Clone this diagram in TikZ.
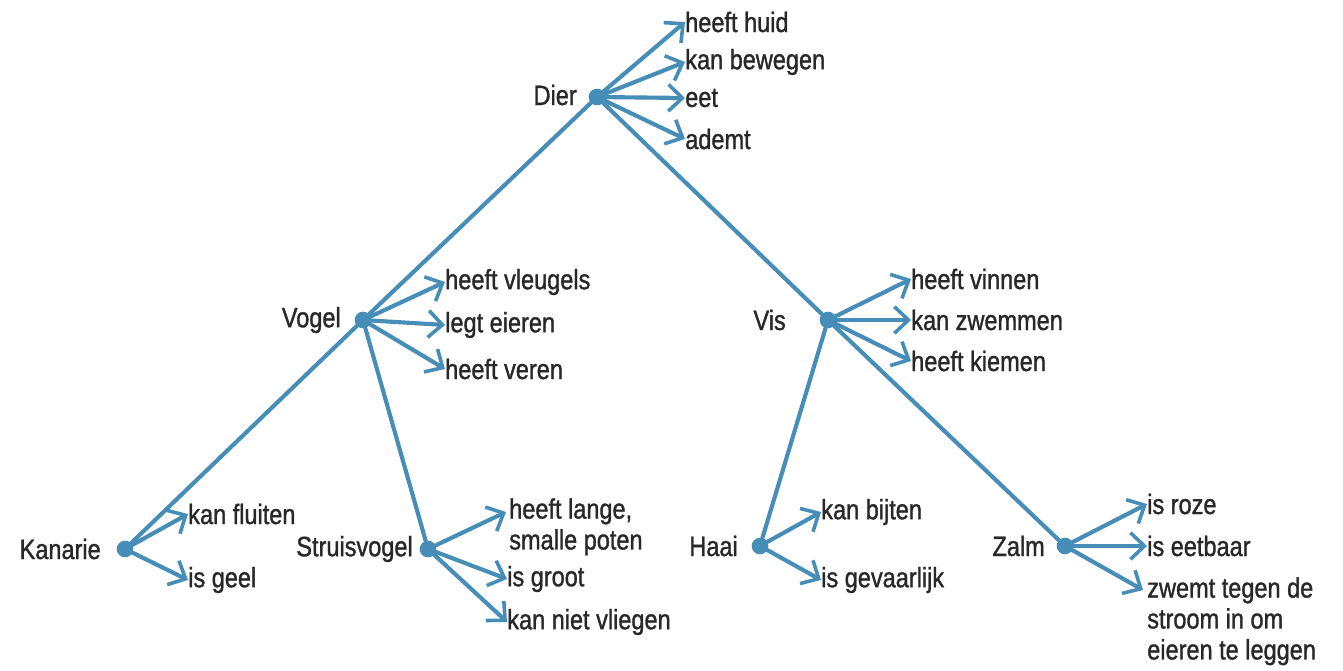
\documentclass[tikz,border=0pt]{standalone}
\usepackage{fontspec}
\setmainfont[FakeStretch=0.84,FakeBold=1.2]{Liberation Sans}
\usetikzlibrary{arrows.meta}
\definecolor{linkblue}{RGB}{70,142,184}
\definecolor{inkgray}{RGB}{40,40,40}
\begin{document}
\begin{tikzpicture}[x=0.75pt,y=-0.75pt,
  font=\fontsize{21}{23.2}\selectfont,
  dot/.style={circle,fill=linkblue,minimum size=12.5pt,inner sep=0pt},
  lbl/.style={text=inkgray,inner sep=0pt},
  prop/.style={text=inkgray,inner sep=0pt,anchor=west},
  propml/.style={text=inkgray,inner sep=0pt,anchor=north west,align=left},
  link/.style={draw=linkblue,line width=3.1pt,line cap=round},
  feat/.style={link,-{Straight Barb[length=10.5pt,width=20pt,line width=2.7pt]}}]
\useasboundingbox (0,0) rectangle (1343,671);

% concept nodes
\node[dot] (dier)   at (597,97)  {};
\node[dot] (vogel)  at (363,320) {};
\node[dot] (vis)    at (828,320) {};
\node[dot] (kan)    at (125,549) {};
\node[dot] (struis) at (428,549) {};
\node[dot] (haai)   at (760,546) {};
\node[dot] (zalm)   at (1065,546) {};

% concept names
\node[lbl,anchor=east] (tdier)   at (577,95)  {Dier};
\node[lbl,anchor=east] (tvogel)  at (341,320) {Vogel};
\node[lbl,anchor=east] (tvis)    at (786,320) {Vis};
\node[lbl,anchor=east] (tkan)    at (101,549) {Kanarie};
\node[lbl,anchor=east] (tstruis) at (413,549) {Struisvogel};
\node[lbl,anchor=east] (thaai)   at (738,546) {Haai};
\node[lbl,anchor=east] (tzalm)   at (1045,546) {Zalm};

% hierarchy
\draw[link] (dier) -- (vogel);
\draw[link] (dier) -- (vis);
\draw[link] (vogel) -- (kan);
\draw[link] (vogel) -- (struis);
\draw[link] (vis) -- (haai);
\draw[link] (vis) -- (zalm);

% properties
\node[prop] (d1) at (685,22)  {heeft huid};
\node[prop] (d2) at (685,62)  {kan bewegen};
\node[prop] (d3) at (685,98)  {eet};
\node[prop] (d4) at (685,139) {ademt};
\foreach \p in {d1,d2,d3,d4} \draw[feat] (dier) -- (\p.west);

\node[prop] (v1) at (445,282) {heeft vleugels};
\node[prop] (v2) at (445,325) {legt eieren};
\node[prop] (v3) at (445,369) {heeft veren};
\foreach \p in {v1,v2,v3} \draw[feat] (vogel) -- (\p.west);

\node[prop] (f1) at (911,279) {heeft vinnen};
\node[prop] (f2) at (911,320) {kan zwemmen};
\node[prop] (f3) at (911,361) {heeft kiemen};
\foreach \p in {f1,f2,f3} \draw[feat] (vis) -- (\p.west);

\node[prop] (k1) at (188,514) {kan fluiten};
\node[prop] (k2) at (188,580) {is geel};
\foreach \p in {k1,k2} \draw[feat] (kan) -- (\p.west);

\node[propml] (s1) at (509,498) {heeft lange,\\smalle poten};
\coordinate (s1tip) at (506,512);
\node[prop] (s2) at (507,579) {is groot};
\node[prop] (s3) at (507,622) {kan niet vliegen};
\draw[feat] (struis) -- (s1tip);
\foreach \p in {s2,s3} \draw[feat] (struis) -- (\p.west);

\node[prop] (h1) at (821,512) {kan bijten};
\node[prop] (h2) at (821,580) {is gevaarlijk};
\foreach \p in {h1,h2} \draw[feat] (haai) -- (\p.west);

\node[prop] (z1) at (1147,504) {is roze};
\node[prop] (z2) at (1147,546) {is eetbaar};
\node[propml] (z3) at (1147,577) {zwemt tegen de\\stroom in om\\eieren te leggen};
\coordinate (z3tip) at (1143,590);
\foreach \p in {z1,z2} \draw[feat] (zalm) -- (\p.west);
\draw[feat] (zalm) -- (z3tip);
\end{tikzpicture}
\end{document}
